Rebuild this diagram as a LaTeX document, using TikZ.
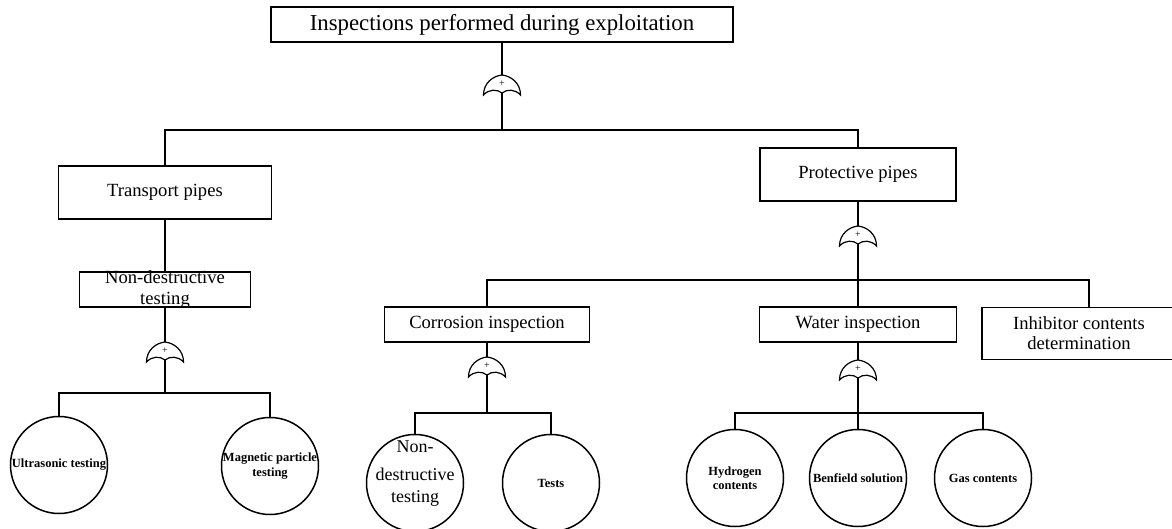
\documentclass[tikz,border=0pt]{standalone}
\usepackage{fontspec}
\setmainfont{Liberation Serif}

\begin{document}
\begin{tikzpicture}[x=1pt,y=-1pt]
\tikzset{BoxStyle/.style =
	{draw,
		shape = rectangle,
		line width = 1.5pt,
		inner sep = 0pt,
		align = center,
		font = \fontsize{18.6}{20}\selectfont},
	EventStyle/.style =
	{draw,
		shape = circle,
		line width = 1.5pt,
		minimum size = 97pt,
		inner sep = -8pt,
		align = center,
		font = \bfseries\fontsize{12.5}{14.5}\selectfont},
	EdgeStyle/.style = {line width = 1.5pt},
	orgate/.pic = {
		\draw[line width = 1.2pt] (-18.5,20) .. controls (-18.5,8) and (-9,1) .. (0,0)
			.. controls (9,1) and (18.5,8) .. (18.5,20)
			.. controls (13,14) and (5,14) .. (0,18)
			.. controls (-5,14) and (-13,14) .. (-18.5,20) -- cycle;
		\node[inner sep = 0pt, font = \fontsize{10}{10}\selectfont] (-plus) at (0,8.5) {+};
		\coordinate (-in) at (0,0);
		\coordinate (-out) at (0,18);}}
\useasboundingbox (0,0) rectangle (1172,529);
\node[BoxStyle, minimum width = 462pt, minimum height = 35pt,
	font = \fontsize{22.8}{24}\selectfont] (T) at (502,24.5) {Inspections performed during exploitation};
\node[BoxStyle, minimum width = 213pt, minimum height = 53pt] (TP) at (165,192.5) {Transport pipes};
\node[BoxStyle, minimum width = 196pt, minimum height = 53pt] (PP) at (858,174.5) {Protective pipes};
\node[BoxStyle, minimum width = 171pt, minimum height = 35pt, font = \fontsize{18.6}{21}\selectfont,
	text height = 31pt, text depth = 0pt] (ND) at (165,289.5) {Non-destructive\\testing};
\node[BoxStyle, minimum width = 205pt, minimum height = 35pt] (CI) at (487,324.5) {Corrosion inspection};
\node[BoxStyle, minimum width = 197pt, minimum height = 35pt] (WI) at (858,324.5) {Water inspection};
\node[BoxStyle, minimum width = 194pt, minimum height = 52pt] (IC) at (1079,333.5) {Inhibitor contents\\determination};
\pic (G1) at (502,75) {orgate};
\pic (G2) at (858,226) {orgate};
\pic (G3) at (165,342) {orgate};
\pic (G4) at (487,357) {orgate};
\pic (G5) at (858,360) {orgate};
\node[EventStyle] (UT) at (59,465) {Ultrasonic testing};
\node[EventStyle] (MP) at (270,466) {Magnetic particle\\testing};
\node[EventStyle, font = \fontsize{18}{22}\selectfont,
	text height = 38pt, text depth = 0pt] (NC) at (415,483) {Non-\\[6pt]destructive\\testing};
\node[EventStyle] (TS) at (551,483) {Tests};
\node[EventStyle] (HC) at (735,478) {Hydrogen\\contents};
\node[EventStyle] (BS) at (858,478) {Benfield solution};
\node[EventStyle] (GC) at (983,478) {Gas contents};
\coordinate (B1) at (502,130);
\coordinate (B2) at (858,280);
\coordinate (B3) at (165,393);
\coordinate (B4) at (487,413);
\coordinate (B5) at (858,413);
%\tikzset{EdgeStyle/.style={->}}
\draw[EdgeStyle] (T) -- (G1-in);
\draw[EdgeStyle] (G1-out) -- (B1);
\draw[EdgeStyle] (TP) |- (B1) -| (PP);
\draw[EdgeStyle] (TP) -- (ND);
\draw[EdgeStyle] (ND) -- (G3-in);
\draw[EdgeStyle] (G3-out) -- (B3);
\draw[EdgeStyle] (UT) |- (B3) -| (MP);
\draw[EdgeStyle] (PP) -- (G2-in);
\draw[EdgeStyle] (G2-out) -- (B2);
\draw[EdgeStyle] (CI) |- (B2) -| ([xshift = 10pt]IC.north);
\draw[EdgeStyle] (B2) -- (WI);
\draw[EdgeStyle] (CI) -- (G4-in);
\draw[EdgeStyle] (G4-out) -- (B4);
\draw[EdgeStyle] (NC) |- (B4) -| (TS);
\draw[EdgeStyle] (WI) -- (G5-in);
\draw[EdgeStyle] (G5-out) -- (BS);
\draw[EdgeStyle] (HC) |- (B5) -| (GC);
\end{tikzpicture}
\end{document}
